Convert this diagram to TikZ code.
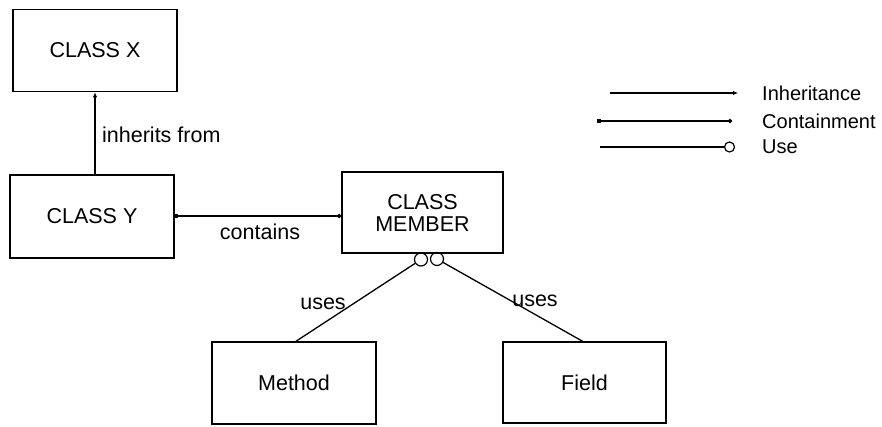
\documentclass[tikz,border=0pt]{standalone}
\usepackage{fontspec}
\setmainfont{Liberation Sans}
\usetikzlibrary{arrows.meta}
\begin{document}
\begin{tikzpicture}[x=1pt,y=-1pt,
  every node/.style={font=\fontsize{21.5}{22}\selectfont},
  classbox/.style={draw,line width=1.5pt,rectangle,inner sep=0pt,
    minimum width=164pt,minimum height=82pt,align=center},
  usering/.style={draw,circle,line width=1.2pt,inner sep=0pt,minimum size=13pt},
  legring/.style={draw,circle,line width=1.2pt,inner sep=0pt,minimum size=10pt},
  inherit/.style={line width=1.3pt,-{Latex[length=5pt,width=4.5pt]}},
  contain/.style={line width=1.3pt,{Square[length=3.5pt,width=3.5pt]}-{Circle[length=4pt]}},
  uses/.style={line width=1.3pt},
  lbl/.style={inner sep=0pt},
  legtext/.style={inner sep=0pt,anchor=west,font=\fontsize{20}{22}\selectfont}]
\useasboundingbox (0,0) rectangle (882,426);

% class boxes
\node[classbox] (X) at (95,50.5) {CLASS X};
\node[classbox,minimum height=83pt] (Y) at (92,216.5) {CLASS Y};
\node[classbox,minimum width=161pt,minimum height=81pt] (M) at (422.5,212.5) {CLASS\\MEMBER};
\node[classbox,minimum height=82pt] (Me) at (294,383) {Method};
\node[classbox,minimum width=163pt,minimum height=81pt] (F) at (584.5,382.5) {Field};

% use rings under CLASS MEMBER
\node[usering] (u1) at (421,259.5) {};
\node[usering] (u2) at (437,259) {};

% connectors
\draw[inherit] (Y.north -| X.south) -- (X.south);
\node[lbl,anchor=west] (inh) at (102,135) {inherits from};

\draw[contain] (Y.east |- 0,216) -- (M.west |- 0,216);
\node[lbl] (con) at (260,232) {contains};

\draw[uses] ([xshift=2pt]Me.north) -- (u1);
\draw[uses] ([xshift=-2pt]F.north) -- (u2);
\node[lbl] (use1) at (323,304) {uses};
\node[lbl] (use2) at (535,301) {uses};

% legend
\coordinate (li1) at (610,93);
\coordinate (li2) at (738,93);
\draw[inherit] (li1) -- (li2);
\node[legtext] (lt1) at (762,93) {Inheritance};

\coordinate (lc1) at (597,121);
\coordinate (lc2) at (732,121);
\draw[contain] (lc1) -- (lc2);
\node[legtext] (lt2) at (762,121) {Containment};

\coordinate (lu1) at (600,147);
\node[legring] (lu2) at (729.5,147) {};
\draw[uses] (lu1) -- (lu2);
\node[legtext] (lt3) at (762,147) {Use};
\end{tikzpicture}
\end{document}
